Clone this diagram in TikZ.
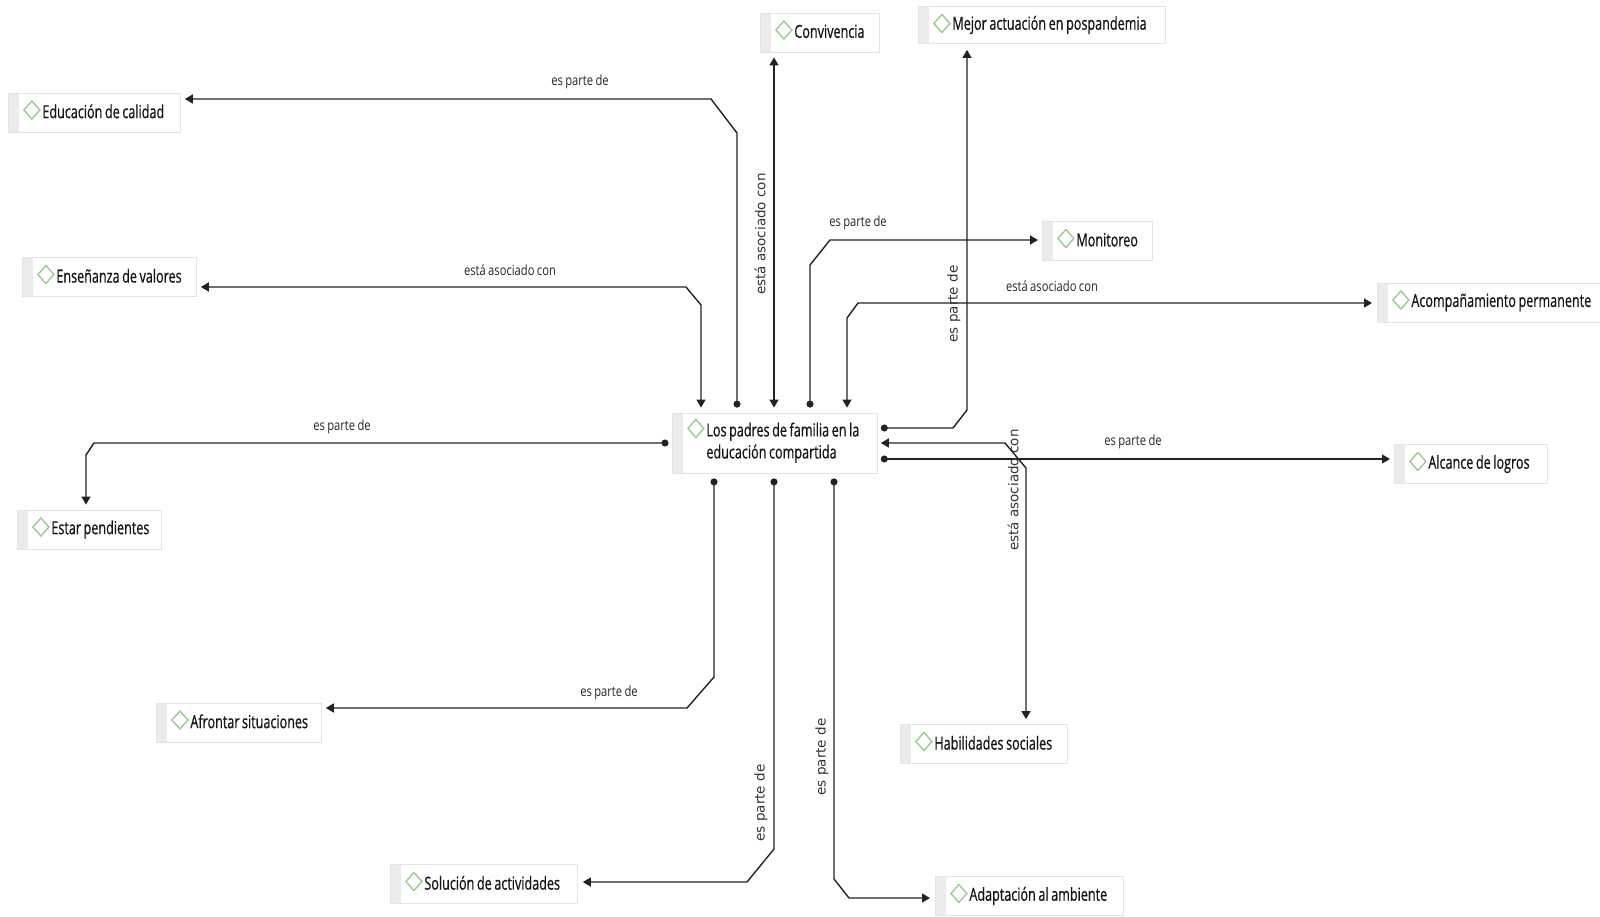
\documentclass[tikz,border=0pt]{standalone}
\usepackage{fontspec}
\usetikzlibrary{arrows.meta,calc}
\newfontfamily\nodefamily{Open Sans}[FakeStretch=0.70, FakeBold=0.6]
\newfontfamily\labfamily{Open Sans}[FakeStretch=0.8, WordSpace=0.8]
\newfontfamily\vfamily{DejaVu Sans}
\newcommand{\boxfont}{\fontsize{18}{22}\selectfont\nodefamily}
\definecolor{boxline}{HTML}{E4E4E4}
\definecolor{stripc}{HTML}{EBEBEB}
\definecolor{diag}{HTML}{95C98A}
\definecolor{linec}{HTML}{222222}
\tikzset{
  box/.style={draw=boxline, line width=0.8pt, fill=white, anchor=west,
    inner xsep=0pt, inner ysep=0pt, minimum height=39pt, align=left,
    text=black!92, font=\boxfont,
    path picture={\fill[stripc] (path picture bounding box.north west)
      rectangle ([xshift=11pt]path picture bounding box.south west);
      \draw[diag, line width=1.3pt, line join=miter]
        ([xshift=23.5pt,yshift=-#1pt]path picture bounding box.north west)
        ++(0pt,9pt) -- ++(8pt,-9pt) -- ++(-8pt,-9pt) -- ++(-8pt,9pt) -- cycle;}},
  box/.default=17,
  conn/.style={draw=linec, line width=1.4pt},
  dotarr/.style={conn, arrows={Circle[length=7pt,width=7pt]-Triangle[length=8pt,width=9pt]}},
  twoway/.style={conn, arrows={Triangle[length=8pt,width=9pt]-Triangle[length=8pt,width=9pt]}},
  hlab/.style={font=\fontsize{14}{16}\selectfont\labfamily, text=black!85, inner sep=0pt},
  vlab/.style={font=\fontsize{13.5}{15}\selectfont\vfamily, text=black!80, inner sep=0pt, rotate=90},
}
\newcommand{\ctext}[1]{\hspace*{34pt}\raisebox{2.5pt}{\spaceskip=2.6pt\relax #1}}
\begin{document}
\begin{tikzpicture}[x=1pt,y=-1pt]
\useasboundingbox (0,0) rectangle (1600,916);
% concepts
\node[box=15.5, text width=205pt, minimum height=60pt] (cen) at (672,443)
  {\hspace*{34pt}\spaceskip=2.6pt\relax\begin{tabular}[t]{@{}l@{}}Los padres de familia en la\\educación compartida\end{tabular}};
\node[box, text width=172pt] (edu) at (8,112.5) {\ctext{Educación de calidad}};
\node[box, text width=174pt] (ens) at (22,277) {\ctext{Enseñanza de valores}};
\node[box, text width=144pt] (est) at (17,529.5) {\ctext{Estar pendientes}};
\node[box, text width=165pt] (afr) at (156,722.5) {\ctext{Afrontar situaciones}};
\node[box, text width=187pt] (sol) at (390,884) {\ctext{Solución de actividades}};
\node[box, text width=188pt] (ada) at (935,896) {\ctext{Adaptación al ambiente}};
\node[box, text width=167pt] (hab) at (900,744) {\ctext{Habilidades sociales}};
\node[box, text width=153pt] (alc) at (1394,464) {\ctext{Alcance de logros}};
\node[box, text width=223pt] (aco) at (1377,302.5) {\ctext{Acompañamiento permanente}};
\node[box, text width=110pt] (mon) at (1042,241) {\ctext{Monitoreo}};
\node[box, text width=247pt, minimum height=37pt] (mej) at (918,25) {\ctext{Mejor actuación en pospandemia}};
\node[box, text width=119pt] (con) at (760,32.5) {\ctext{Convivencia}};
% connectors
\draw[dotarr, shorten <=5pt, shorten >=4pt] (cen.north -| 737,0) -- (737,133) -- (711,99) -- (edu.east |- 0,99);
\draw[twoway, shorten <=5pt, shorten >=4pt] (cen.north -| 701,0) -- (701,305) -- (686,287) -- (ens.east |- 0,287);
\draw[twoway, shorten <=5pt, shorten >=5pt] (cen.north -| 774,0) -- (con.south -| 774,0);
\draw[dotarr, shorten <=3pt, shorten >=6pt] (cen.east |- 0,428) -- (953,428) -- (967,410) -- (mej.south -| 967,0);
\draw[dotarr, shorten <=5pt, shorten >=4pt] (cen.north -| 810,0) -- (810,265) -- (830,240) -- (mon.west |- 0,240);
\draw[twoway, shorten <=5pt, shorten >=5pt] (cen.north -| 847,0) -- (847,318) -- (858,303) -- (aco.west |- 0,303);
\draw[dotarr, shorten <=3pt, shorten >=4pt] (cen.east |- 0,459) -- (alc.west |- 0,459);
\draw[twoway, shorten <=3pt, shorten >=5pt] (cen.east |- 0,443) -- (1005,443) -- (1026,468) -- (hab.north -| 1026,0);
\draw[dotarr, shorten <=3.5pt, shorten >=5pt] (cen.west |- 0,443) -- (94,443) -- (86,455) -- (est.north -| 86,0);
\draw[dotarr, shorten <=5pt, shorten >=4pt] (cen.south -| 714,0) -- (714,677) -- (687,708) -- (afr.east |- 0,708);
\draw[dotarr, shorten <=5pt, shorten >=5pt] (cen.south -| 774,0) -- (774,849) -- (747,882) -- (sol.east |- 0,882);
\draw[dotarr, shorten <=5pt, shorten >=5pt] (cen.south -| 834,0) -- (834,879) -- (849,898) -- (ada.west |- 0,898);
% labels
\node[hlab] (l1) at (580,82) {es parte de};
\node[hlab] (l2) at (510,270) {está asociado con};
\node[vlab] (l3) at (760,234) {está asociado con};
\node[vlab] (l4) at (954,304) {es parte de};
\node[hlab] (l5) at (858,223) {es parte de};
\node[hlab] (l6) at (1052,286) {está asociado con};
\node[hlab] (l7) at (1133,442) {es parte de};
\node[vlab] (l8) at (1013,490) {está asociado con};
\node[hlab] (l9) at (342,427) {es parte de};
\node[hlab] (l10) at (609,693) {es parte de};
\node[vlab] (l11) at (761,803) {es parte de};
\node[vlab] (l12) at (822,757) {es parte de};
\end{tikzpicture}
\end{document}
